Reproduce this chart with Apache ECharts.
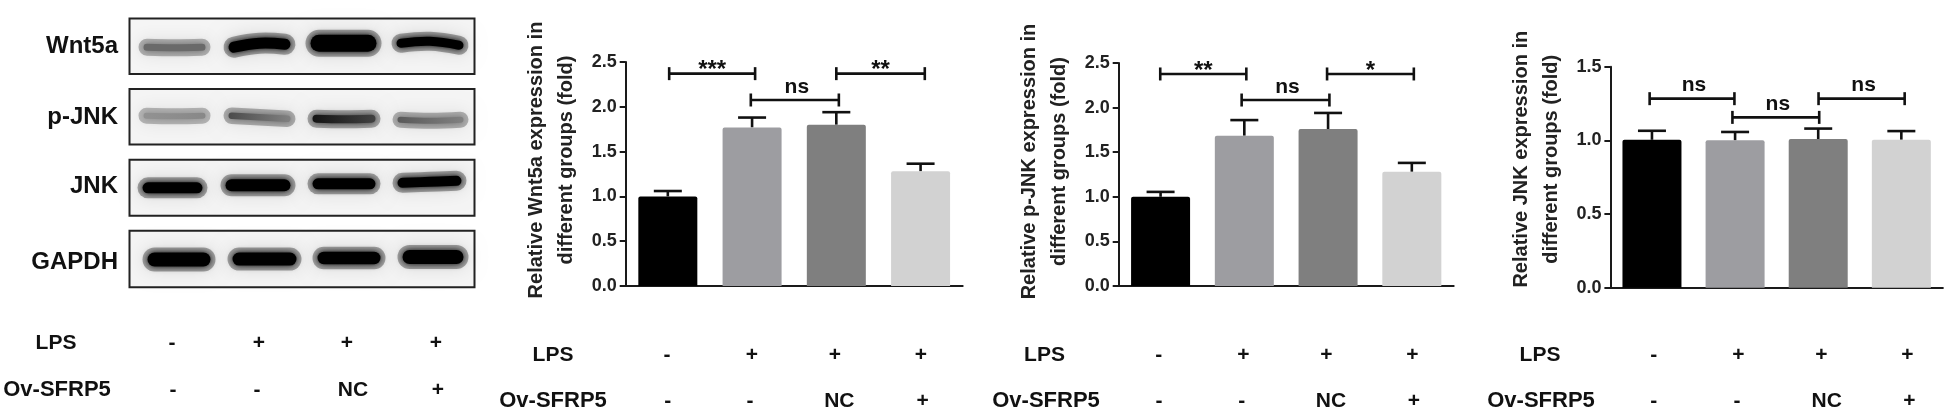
<!DOCTYPE html>
<html>
<head>
<meta charset="utf-8">
<style>html,body{margin:0;padding:0;background:#fff}#c{width:1946px;height:411px}canvas{filter:blur(.45px)}</style>
<script src="https://cdn.jsdelivr.net/npm/echarts@6/dist/echarts.min.js"></script>
</head>
<body>
<div id="c"></div>
<script>
// ---------- data ----------
const groups = ['g1', 'g2', 'g3', 'g4'];
const lpsRow = ['-', '+', '+', '+'];
const ovRow = ['-', '-', 'NC', '+'];
const barColors = ['#000000', '#9d9da1', '#7f7f7f', '#d2d2d2'];

const wnt5aMeans = [1.0, 1.77, 1.80, 1.28];
const wnt5aTops = [1.06, 1.88, 1.94, 1.365];
const wnt5aBrackets = [[0.016, 1.036, 2.37, '***'], [0.985, 2.03, 2.076, 'ns'], [2.0, 3.05, 2.37, '**']];

const pjnkMeans = [1.0, 1.685, 1.76, 1.28];
const pjnkTops = [1.055, 1.86, 1.94, 1.38];
const pjnkBrackets = [[-0.004, 1.024, 2.377, '**'], [0.968, 2.016, 2.085, 'ns'], [1.988, 3.024, 2.377, '*']];

const jnkMeans = [1.004, 1.0, 1.009, 1.004];
const jnkTops = [1.065, 1.057, 1.08, 1.063];
const jnkBrackets = [[-0.028, 0.992, 1.283, 'ns'], [0.968, 2.012, 1.156, 'ns'], [2.004, 3.04, 1.283, 'ns']];

// blot bands: xStart, xEnd, yLeft, yMid, yRight, thickness, darknessLeft, darknessRight
const wnt5aBlot = [[14, 76, 29, 29.5, 29, 7, 0.55, 0.55], [99, 161, 29, 25, 26, 11, 1, 1], [181, 247, 25, 25, 25, 17, 1, 1], [267, 334, 25, 23, 27, 9, 1, 1]];
const pjnkBlot = [[14, 76, 27, 27.5, 27, 6, 0.38, 0.42], [99, 161, 27, 28.5, 30, 6.5, 0.68, 0.45], [183, 246, 30, 30.5, 30, 8, 0.92, 0.72], [268, 334, 31, 32, 31, 6, 0.62, 0.45]];
const jnkBlot = [[13, 73, 28, 28, 28, 11, 1, 1], [96, 161, 25.5, 25.5, 25.5, 12, 1, 1], [183, 246, 24, 24, 24, 11, 1, 1], [268, 332, 23, 22, 21, 10, 1, 1]];
const gapdhBlot = [[18, 81, 28.5, 28.5, 28.5, 14, 1, 1], [103, 167, 28, 28, 28, 13, 1, 1], [188, 251, 27, 27, 27, 12.5, 1, 1], [273, 334, 26, 26, 26, 14, 1, 1]];
const blotNames = ['Wnt5a', 'p-JNK', 'JNK', 'GAPDH'];

const yTickTop = [2.5, 2.5, 1.5];
const yNames = ['Relative Wnt5a expression in\ndifferent groups (fold)', 'Relative p-JNK expression in\ndifferent groups (fold)', 'Relative JNK expression in\ndifferent groups (fold)'];

// ---------- layout ----------
const FONT = '"Liberation Sans", Arial, sans-serif';
const INK = '#1a1a1a';
const chartBoxes = [
  {left: 625.7, top: 62, width: 337, height: 224, gap: 44, pad: 28},
  {left: 1118.7, top: 63, width: 335, height: 223, gap: 44, pad: 26},
  {left: 1610.4, top: 66.7, width: 332.5, height: 221, gap: 44, pad: 36}
];
const blotBoxes = [
  {left: 129.5, top: 18.5, width: 345, height: 55.5},
  {left: 129.5, top: 89, width: 345, height: 55.5},
  {left: 129.5, top: 159.8, width: 345, height: 56},
  {left: 129.5, top: 230.8, width: 345, height: 56.5}
];
const blotLabelY = [46, 117, 186, 262];

const rowBlocks = [
  {lx: 56, lpsY: 343, ovY: 390, ovLx: 57, lps: [172, 259, 347, 436], ov: [173, 257, 353, 438]},
  {lx: 553, lpsY: 355, ovY: 401, ovLx: 553, lps: [667, 752, 835, 921], ov: [667.7, 750, 839.3, 922.7]},
  {lx: 1044.5, lpsY: 355, ovY: 401, ovLx: 1046, lps: [1158.7, 1243.3, 1326.3, 1412.3], ov: [1159, 1241.7, 1331, 1414]},
  {lx: 1540, lpsY: 355, ovY: 401, ovLx: 1541, lps: [1653.7, 1738.3, 1821.3, 1907.3], ov: [1653.7, 1737, 1826.7, 1909.3]}
];

const grid = [], xAxis = [], yAxis = [], series = [], graphic = [];

function txt(x, y, text, size, align) {
  graphic.push({type: 'text', silent: true, x: x, y: y,
    style: {text: text, fill: '#111', font: 'bold ' + size + 'px ' + FONT, align: align || 'center', verticalAlign: 'middle'}});
}

function addChart(i, means, tops, brackets) {
  const b = chartBoxes[i];
  const gi = grid.length;
  grid.push({left: b.left, top: b.top, width: b.width, height: b.height});
  const cat = xAxis.length;
  xAxis.push({type: 'category', gridIndex: gi, data: groups,
    axisLine: {lineStyle: {color: INK, width: 2}}, axisTick: {alignWithLabel: true, length: 6, lineStyle: {color: INK, width: 2}},
    axisLabel: {show: false}, splitLine: {show: false}});
  const val = xAxis.length;
  xAxis.push({type: 'value', gridIndex: gi, min: -0.5, max: 3.5, show: false, splitLine: {show: false}});
  yAxis.push({type: 'value', gridIndex: gi, min: 0, max: yTickTop[i], interval: 0.5,
    axisLine: {show: true, onZero: false, lineStyle: {color: INK, width: 2}}, axisTick: {show: true, length: 6, lineStyle: {color: INK, width: 2}},
    axisLabel: {margin: 9, color: '#222', fontFamily: FONT, fontWeight: 'bold', fontSize: 18, formatter: v => v.toFixed(1)},
    splitLine: {show: false},
    name: yNames[i], nameLocation: 'middle', nameGap: b.gap, nameRotate: 90,
    nameTextStyle: {color: '#222', fontFamily: FONT, fontWeight: 'bold', fontSize: 20, lineHeight: 30, padding: [0, 0, 0, b.pad]}});
  series.push({type: 'bar', xAxisIndex: cat, yAxisIndex: gi, barWidth: 59, silent: true, animation: false,
    data: means.map((v, k) => ({value: v, itemStyle: {color: barColors[k], borderRadius: [2, 2, 0, 0]}}))});
  series.push({type: 'custom', xAxisIndex: val, yAxisIndex: gi, silent: true, animation: false, clip: false,
    data: means.map((v, k) => [k, v, tops[k]]),
    encode: {x: 0, y: [1, 2]},
    renderItem: (p, api) => {
      const a = api.coord([api.value(0), api.value(1)]);
      const t = api.coord([api.value(0), api.value(2)]);
      const st = {stroke: '#111', lineWidth: 2.6, fill: null};
      return {type: 'group', children: [
        {type: 'line', shape: {x1: a[0], y1: a[1], x2: t[0], y2: t[1]}, style: st},
        {type: 'line', shape: {x1: t[0] - 14, y1: t[1], x2: t[0] + 14, y2: t[1]}, style: st}
      ]};
    }});
  series.push({type: 'custom', xAxisIndex: val, yAxisIndex: gi, silent: true, animation: false, clip: false,
    data: brackets.map(r => [r[0], r[1], r[2]]),
    encode: {x: [0, 1], y: 2},
    renderItem: (p, api) => {
      const a = api.coord([api.value(0), api.value(2)]);
      const c = api.coord([api.value(1), api.value(2)]);
      const label = brackets[p.dataIndex][3];
      const st = {stroke: '#111', lineWidth: 2.6, fill: null};
      const star = label !== 'ns';
      return {type: 'group', children: [
        {type: 'line', shape: {x1: a[0], y1: a[1], x2: c[0], y2: c[1]}, style: st},
        {type: 'line', shape: {x1: a[0], y1: a[1] - 6.5, x2: a[0], y2: a[1] + 6.5}, style: st},
        {type: 'line', shape: {x1: c[0], y1: c[1] - 6.5, x2: c[0], y2: c[1] + 6.5}, style: st},
        {type: 'text', style: {x: (a[0] + c[0]) / 2 + (star ? 0 : 2), y: a[1] + (star ? -3 : -13), text: label, fill: '#111',
          font: 'bold ' + (star ? 24 : 21) + 'px ' + FONT, align: 'center', verticalAlign: 'middle'}}
      ]};
    }});
}

function addBlot(i, bands) {
  const b = blotBoxes[i];
  const gi = grid.length;
  grid.push({left: b.left, top: b.top, width: b.width, height: b.height, show: true,
    backgroundColor: '#f5f5f5', borderColor: '#222', borderWidth: 2});
  const xi = xAxis.length;
  xAxis.push({type: 'value', gridIndex: gi, min: 0, max: 345, show: false, splitLine: {show: false}});
  yAxis.push({type: 'value', gridIndex: gi, min: 0, max: 56, inverse: true, show: false, splitLine: {show: false}});
  series.push({type: 'custom', xAxisIndex: xi, yAxisIndex: gi, silent: true, animation: false,
    data: bands,
    encode: {x: [0, 1], y: [2, 3, 4]},
    renderItem: (p, api) => {
      const th = api.value(5);
      const x0 = api.value(0) + th / 2, x1 = api.value(1) - th / 2;
      const pts = [api.coord([x0, api.value(2)]), api.coord([(x0 + x1) / 2, api.value(3)]), api.coord([x1, api.value(4)])];
      const dl = api.value(6), dr = api.value(7);
      const g = d => { const v = Math.round(235 * (1 - d)); return 'rgb(' + v + ',' + v + ',' + v + ')'; };
      const stroke = new echarts.graphic.LinearGradient(0, 0, 1, 0, [{offset: 0, color: g(dl)}, {offset: 1, color: g(dr)}]);
      return {type: 'group', children: [
        {type: 'polyline', shape: {points: pts, smooth: 0.4},
          style: {stroke: 'rgba(0,0,0,' + (0.2 + 0.12 * dl) + ')', lineWidth: th + 10, lineCap: 'round', fill: null, shadowBlur: 18, shadowColor: 'rgba(0,0,0,0.3)'}},
        {type: 'polyline', shape: {points: pts, smooth: 0.4},
          style: {stroke: stroke, lineWidth: th, lineCap: 'round', fill: null, shadowBlur: 6, shadowColor: g((dl + dr) / 2)}}
      ]};
    }});
  txt(118, blotLabelY[i], blotNames[i], 24, 'right');
}

addChart(0, wnt5aMeans, wnt5aTops, wnt5aBrackets);
addChart(1, pjnkMeans, pjnkTops, pjnkBrackets);
addChart(2, jnkMeans, jnkTops, jnkBrackets);
addBlot(0, wnt5aBlot);
addBlot(1, pjnkBlot);
addBlot(2, jnkBlot);
addBlot(3, gapdhBlot);

rowBlocks.forEach(r => {
  txt(r.lx, r.lpsY, 'LPS', 21);
  txt(r.ovLx, r.ovY, 'Ov-SFRP5', 22);
  lpsRow.forEach((t, k) => txt(r.lps[k], r.lpsY, t, 21));
  ovRow.forEach((t, k) => txt(r.ov[k], r.ovY, t, 21));
});

const chart = echarts.init(document.getElementById('c'), null, {renderer: 'canvas'});
chart.setOption({animation: false, backgroundColor: '#ffffff', grid, xAxis, yAxis, series, graphic: {elements: graphic}});
</script>
</body>
</html>
